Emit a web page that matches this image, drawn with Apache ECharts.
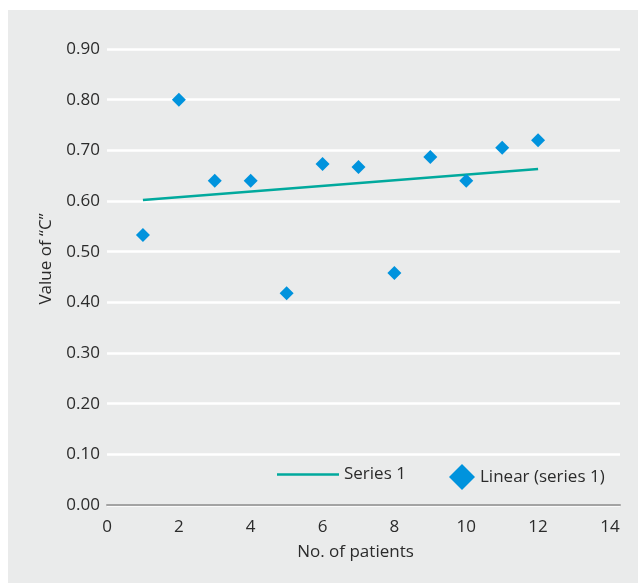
<!DOCTYPE html>
<html>
<head>
<meta charset="utf-8">
<script src="https://cdn.jsdelivr.net/npm/echarts@6/dist/echarts.min.js"></script>
<style>
html,body{margin:0;padding:0;background:#fff;}
#wrap{position:absolute;left:8px;top:10px;width:630px;height:573px;background:#eaebeb;}
#chart{position:absolute;left:0;top:0;width:638px;height:585px;}
</style>
</head>
<body>
<div id="wrap"></div>
<div id="chart"></div>
<script>
const patients = [1, 2, 3, 4, 5, 6, 7, 8, 9, 10, 11, 12];
const cValues = [0.533, 0.80, 0.64, 0.64, 0.418, 0.673, 0.667, 0.458, 0.687, 0.64, 0.705, 0.72];
const trendX = [1, 12];
const trendY = [0.602, 0.663];

const font = 'Open Sans';
const txt = '#2b2b2b';
const fs = 17;
const chart = echarts.init(document.getElementById('chart'), null, {renderer: 'canvas'});
chart.setOption({
  backgroundColor: 'transparent',
  textStyle: {fontFamily: font},
  grid: {left: 107, right: 18, top: 49, bottom: 80},
  xAxis: {
    type: 'value', min: 0, max: 14.28, interval: 2,
    name: 'No. of patients', nameLocation: 'middle', nameGap: 39,
    nameTextStyle: {fontSize: fs, color: txt, fontFamily: font, padding: [0, 16, 0, 0]},
    axisLine: {show: true, lineStyle: {color: '#a3a3a3', width: 2}},
    axisTick: {show: false},
    splitLine: {show: false},
    axisLabel: {fontSize: fs, color: txt, margin: 14, fontFamily: font, showMaxLabel: false}
  },
  yAxis: {
    type: 'value', min: 0, max: 0.9, interval: 0.1,
    name: 'Value of \u201cC\u201d', nameLocation: 'middle', nameGap: 52,
    nameTextStyle: {fontSize: fs, color: txt, fontFamily: font, padding: [0, 0, 0, 36]},
    axisLine: {show: false},
    axisTick: {show: false},
    splitLine: {show: true, lineStyle: {color: '#ffffff', width: 2.5}},
    axisLabel: {fontSize: fs, color: txt, margin: 7, fontFamily: font,
      formatter: v => v.toFixed(2)}
  },
  legend: [
    {
      data: [{name: 'Series 1', icon: 'rect'}], left: 272, top: 461, itemWidth: 62, itemHeight: 2.5, itemGap: 8,
      symbolKeepAspect: false,
      textStyle: {fontSize: fs, color: txt, fontFamily: font}
    },
    {
      data: [{name: 'Linear (series 1)', icon: 'diamond'}], left: 444, top: 459, itemWidth: 26, itemHeight: 26, itemGap: 8,
      textStyle: {fontSize: fs, color: txt, fontFamily: font}
    }
  ],
  series: [
    {
      name: 'Series 1', type: 'line',
      data: trendX.map((x, i) => [x, trendY[i]]),
      symbol: 'none', showSymbol: false,
      lineStyle: {color: '#00a99d', width: 2.5},
      itemStyle: {color: '#00a99d'},
      z: 2
    },
    {
      name: 'Linear (series 1)', type: 'scatter',
      data: patients.map((x, i) => [x, cValues[i]]),
      symbol: 'diamond', symbolSize: 14,
      itemStyle: {color: '#0093dd', opacity: 1},
      z: 3
    }
  ]
});
</script>
</body>
</html>
